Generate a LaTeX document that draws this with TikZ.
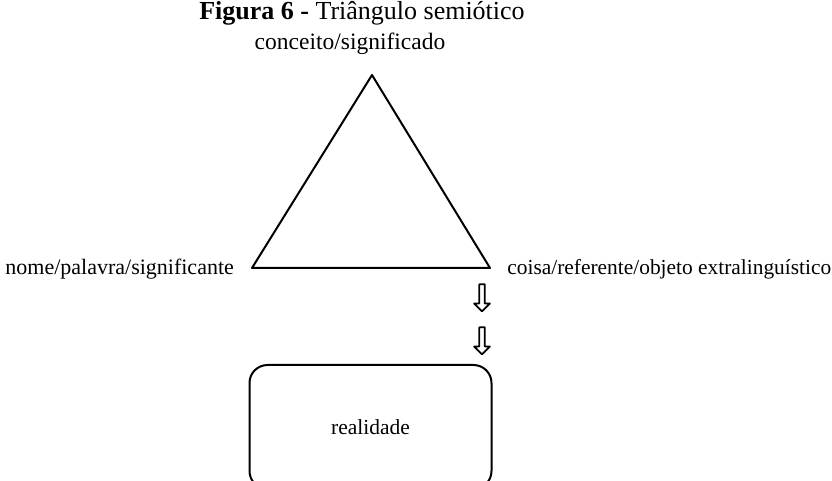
\documentclass[tikz,border=0pt]{standalone}
\usepackage{fontspec}
\setmainfont{Liberation Serif}
\usetikzlibrary{shapes.arrows}

\begin{document}
\begin{tikzpicture}[line cap=round,line join=round,x=0.5pt,y=-0.5pt,
seta/.style={single arrow,draw,line width=0.9pt,fill=white,
shape border rotate=270,minimum height=13.5pt,minimum width=5pt,
single arrow head extend=2.6pt,inner sep=0.9pt},
rotulo/.style={font=\fontsize{11}{13}\selectfont,inner sep=0pt}]
\useasboundingbox (0,0) rectangle (832,481);
% Titulo
\node[font=\fontsize{13}{15}\selectfont,anchor=base] (titulo) at (362,20)
{\textbf{Figura 6 -} Triângulo semiótico};
% Vertices do triangulo
\coordinate (topo) at (372,75);
\coordinate (esq) at (252,268);
\coordinate (dir) at (490,268);
\draw[line width=1pt] (topo) -- (dir) -- (esq) -- cycle;
% Rotulos
\node[rotulo,font=\fontsize{11.75}{13}\selectfont,anchor=base] (conceito)
at (350,50) {conceito/significado};
\node[rotulo,anchor=base west] (nome) at (5,275) {nome/palavra/significante};
\node[rotulo,font=\fontsize{10.7}{13}\selectfont,anchor=base west] (coisa)
at (507,275) {coisa/referente/objeto extralinguístico};
% Setas ocas
\node[seta] (s1) at (482,296.5) {};
\node[seta] (s2) at (482,339.5) {};
% Caixa da realidade
\node[draw,line width=1pt,rounded corners=9pt,minimum width=121pt,
minimum height=62pt,font=\fontsize{10.75}{13}\selectfont] (real)
at (370.5,427) {realidade};
\end{tikzpicture}
\end{document}
